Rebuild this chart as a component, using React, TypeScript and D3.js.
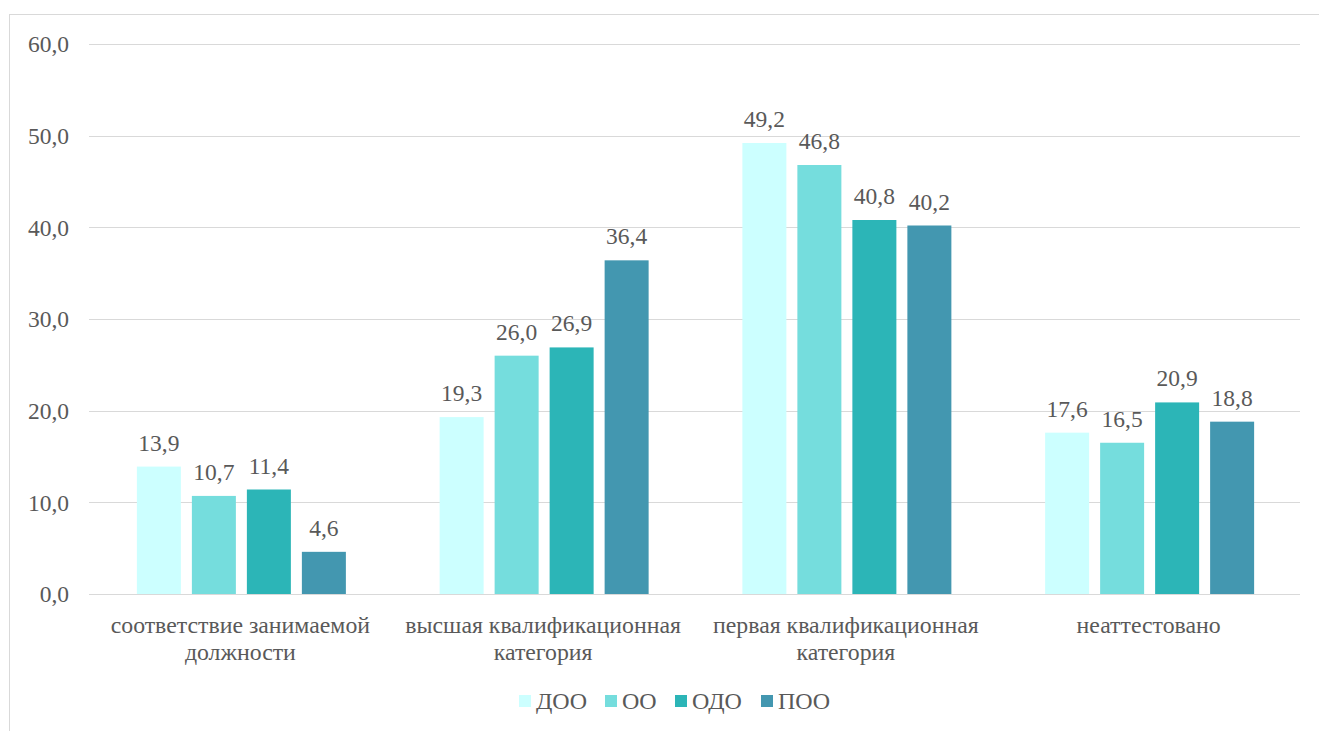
import React from "react";
import * as d3 from "d3";

const categories: string[][] = [
  ["соответствие занимаемой", "должности"],
  ["высшая квалификационная", "категория"],
  ["первая квалификационная", "категория"],
  ["неаттестовано"],
];
const series = ["ДОО", "ОО", "ОДО", "ПОО"];
const colors = ["#CCFFFF", "#75DDDD", "#2CB5B7", "#4397B0"];
const values: number[][] = [
  [13.9, 19.3, 49.2, 17.6],
  [10.7, 26.0, 46.8, 16.5],
  [11.4, 26.9, 40.8, 20.9],
  [4.6, 36.4, 40.2, 18.8],
];
const yTicks = [0, 10, 20, 30, 40, 50, 60];

const W = 1319;
const H = 731;
const font = "'Liberation Serif', 'Times New Roman', serif";
const textColor = "#595959";
const fmt = (v: number) => v.toFixed(1).replace(".", ",");

export default function App() {
  const y = d3.scaleLinear().domain([0, 60]).range([594, 44]);
  const x0 = d3
    .scaleBand<number>()
    .domain(categories.map((_, i) => i))
    .range([89, 1300])
    .paddingInner(0)
    .paddingOuter(0);
  const gw = x0.bandwidth();
  const inner = 209;
  const x1 = d3
    .scaleBand<string>()
    .domain(series)
    .range([(gw - inner) / 2 + 1, (gw + inner) / 2 + 1])
    .paddingInner(0.2)
    .paddingOuter(0);

  return (
    <svg
      width={W}
      height={H}
      style={{ position: "absolute", left: 0, top: 0, background: "#fff" }}
    >
      <rect x={9.5} y={14.5} width={1330} height={740} fill="#fff" stroke="#d9d9d9" strokeWidth={1} />
      {yTicks.map((t) => (
        <g key={t}>
          <line x1={89} x2={1300} y1={Math.round(y(t)) + 0.5} y2={Math.round(y(t)) + 0.5} stroke="#d9d9d9" strokeWidth={1} />
          <text
            x={69}
            y={y(t)}
            dy="0.35em"
            textAnchor="end"
            fontFamily={font}
            fontSize={23.5}
            fill={textColor}
          >
            {fmt(t)}
          </text>
        </g>
      ))}
      {categories.map((cat, ci) => (
        <g key={ci} transform={`translate(${x0(ci)},0)`}>
          {series.map((s, si) => {
            const v = values[si][ci];
            const bx = x1(s)!;
            return (
              <g key={s}>
                <rect x={bx} y={y(v)} width={x1.bandwidth()} height={y(0) - y(v)} fill={colors[si]} />
                <text
                  x={bx + x1.bandwidth() / 2}
                  y={y(v) - 16}
                  textAnchor="middle"
                  fontFamily={font}
                  fontSize={23.5}
                  fill={textColor}
                >
                  {fmt(v)}
                </text>
              </g>
            );
          })}
          {cat.map((line, li) => (
            <text
              key={li}
              x={gw / 2}
              y={633 + li * 27}
              textAnchor="middle"
              fontFamily={font}
              fontSize={23.8}
              fill={textColor}
            >
              {line}
            </text>
          ))}
        </g>
      ))}
      <g>
        {series.map((s, i) => {
          const lx = [519, 605, 675, 761][i];
          return (
            <g key={s}>
              <rect x={lx} y={695} width={12} height={12} fill={colors[i]} />
              <text x={lx + 17} y={709} fontFamily={font} fontSize={24} fill={textColor}>
                {s}
              </text>
            </g>
          );
        })}
      </g>
    </svg>
  );
}
